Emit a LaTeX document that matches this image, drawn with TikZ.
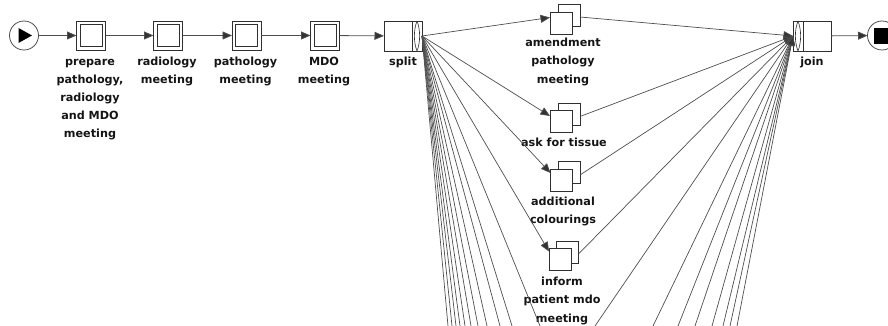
\documentclass[tikz,border=0pt]{standalone}
\usepackage{fontspec}
\setmainfont{DejaVu Sans}
\usetikzlibrary{arrows.meta}
\definecolor{edgec}{HTML}{4E4E4E}
\definecolor{boxc}{HTML}{303030}
\definecolor{tipc}{HTML}{333333}
\begin{document}
\begin{tikzpicture}[x=1pt,y=-1pt,
  lbl/.style={anchor=north, inner sep=0pt, align=center, font=\fontsize{11.2}{18.2}\selectfont\bfseries, text=black!92},
  flow/.style={draw=edgec, line width=0.8pt, -{Triangle[length=9.5pt,width=8pt,fill=tipc]}},
  fan/.style={draw=edgec, line width=0.7pt},
  fanin/.style={draw=edgec, line width=0.7pt, -{Triangle[length=9.5pt,width=8pt,fill=tipc]}},
  outerbox/.style={draw=boxc, fill=white, line width=0.8pt, minimum width=29pt, minimum height=29pt, inner sep=0pt, outer sep=0pt},
  innerbox/.style={draw=boxc, line width=0.8pt, minimum size=22pt, inner sep=0pt, outer sep=0pt},
  multibox/.style={draw=boxc, fill=white, line width=0.8pt, minimum size=22pt, inner sep=0pt, outer sep=0pt},
  gate/.style={draw=boxc, fill=white, line width=0.8pt, minimum width=38pt, minimum height=30pt, inner sep=0pt, outer sep=0pt},
  evt/.style={circle, draw=edgec, fill=white, line width=0.8pt, minimum size=29pt, inner sep=0pt, outer sep=0pt}
]
\useasboundingbox (0,0) rectangle (888,326);

% start / end events
\node[evt] (start) at (24,35.5) {};
\fill[black] (18.5,28) -- (32,35.5) -- (18.5,43) -- cycle;
\node[evt] (stop) at (882,35.5) {};
\fill[black] (874,28) rectangle (890,44);

% sequential tasks
\node[outerbox] (t1) at (91,35.5) {};
\node[innerbox] at (t1) {};
\node[outerbox] (t2) at (168,35.5) {};
\node[innerbox] at (t2) {};
\node[outerbox] (t3) at (246.5,35.5) {};
\node[innerbox] at (t3) {};
\node[outerbox] (t4) at (325,35.5) {};
\node[innerbox] at (t4) {};

\node[lbl] (t1l) at (90,55) {\rule{0pt}{10pt}prepare\\pathology,\\radiology\\and MDO\\meeting};
\node[lbl] (t2l) at (167,55) {\rule{0pt}{10pt}radiology\\meeting};
\node[lbl] (t3l) at (245.5,55) {\rule{0pt}{10pt}pathology\\meeting};
\node[lbl] (t4l) at (324,55) {\rule{0pt}{10pt}MDO\\meeting};

% split gateway
\node[gate] (split) at (403,36) {};
\draw[boxc, line width=0.7pt] (412.5,21) -- (412.5,51);
\draw[boxc, line width=0.6pt] (417,21) .. controls (413.5,30) and (413.5,42) .. (417,51)
      .. controls (420.5,42) and (420.5,30) .. (417,21);
\node[lbl] (splitl) at (403,55) {\rule{0pt}{10pt}split};

% join gateway
\node[gate] (join) at (812,36) {};
\draw[boxc, line width=0.7pt] (803,21) -- (803,51);
\draw[boxc, line width=0.6pt] (798,21) .. controls (794.5,30) and (794.5,42) .. (798,51)
      .. controls (801.5,42) and (801.5,30) .. (798,21);
\node[lbl] (joinl) at (812,55) {\rule{0pt}{10pt}join};

% branch tasks (multi-instance look)
\node[multibox] (aB) at (569,15) {};
\node[multibox] (aF) at (561,23) {};
\node[lbl] (al) at (563,36.5) {\rule{0pt}{10pt}amendment\\pathology\\meeting};

\node[multibox] (kB) at (569,114) {};
\node[multibox] (kF) at (561,121) {};
\node[lbl] (kl) at (564,136) {\rule{0pt}{10pt}ask for tissue};

\node[multibox] (cB) at (569,172.5) {};
\node[multibox] (cF) at (561.5,180) {};
\node[lbl] (cl) at (563,195) {\rule{0pt}{10pt}additional\\colourings};

\node[multibox] (iB) at (567.5,252.5) {};
\node[multibox] (iF) at (560,259.5) {};
\node[lbl] (il) at (562,275.5) {\rule{0pt}{10pt}inform\\patient mdo\\meeting};

% main flow
\draw[flow] (start) -- (t1);
\draw[flow] (t1) -- (t2);
\draw[flow] (t2) -- (t3);
\draw[flow] (t3) -- (t4);
\draw[flow] (t4) -- (split);
\draw[flow] (join) -- (stop);

% split -> visible branches
\draw[fanin] (split.east) -- ([yshift=-5.5pt]aF.north west);
\draw[fanin] (split.east) -- ([yshift=-6pt]kF.north west);
\draw[fanin] (split.east) -- ([yshift=-4pt]cF.north west);
\draw[fanin] (split.east) -- ([yshift=-3pt]iF.north west);

% visible branches -> join
\draw[fanin] ([yshift=-2pt]aB.east) -- (join.west);
\draw[fanin] ([yshift=-2.5pt]kB.east) -- (join.west);
\draw[fanin] ([yshift=-2.5pt]cB.east) -- (join.west);
\draw[fanin] ([yshift=-1.5pt]iB.east) -- (join.west);

% branches continuing below the visible area
\foreach \x [count=\i] in {448,452,456,460,465,471,478,487,500,512,540} {
  \coordinate (lo\i) at (\x,326);
  \draw[fan] (split.east) -- (lo\i);
}
\foreach \x [count=\i] in {595,653,678,695,712,723,730,737} {
  \coordinate (ro\i) at (\x,326);
  \draw[fanin] (ro\i) -- (join.west);
}
\end{tikzpicture}
\end{document}
